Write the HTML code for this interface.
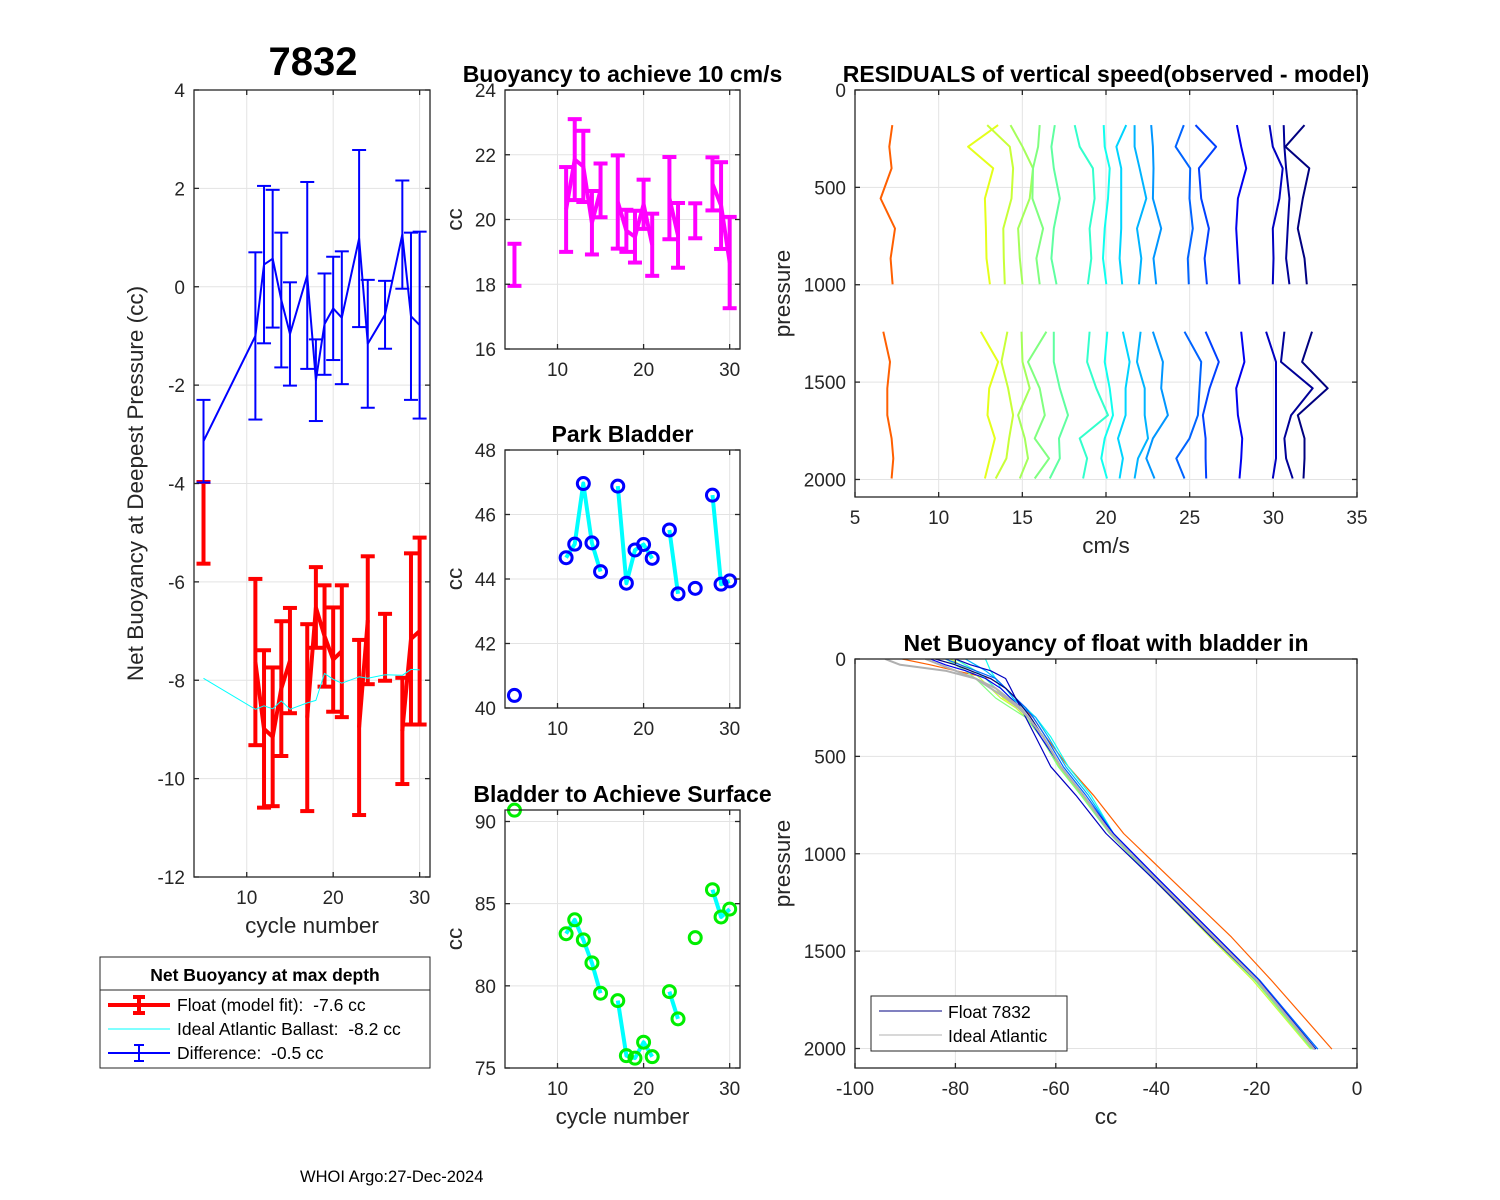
<!DOCTYPE html>
<html><head><meta charset="utf-8">
<style>
html,body{margin:0;padding:0;background:#fff;}
svg{display:block;font-family:"Liberation Sans",Arial,sans-serif;}
text{white-space:pre;}
</style></head>
<body>
<svg id="fig" width="1500" height="1200" viewBox="0 0 1500 1200" xmlns="http://www.w3.org/2000/svg" xml:space="preserve">
<rect x="0" y="0" width="1500" height="1200" fill="#fff"/>
<g id="root"></g>
</svg>
<script>
// ---------- data ----------
const cycles   = [5,11,12,13,14,15,17,18,19,20,21,23,24,26,28,29,30];
const floatFit = [-4.8,-7.63,-8.99,-9.15,-8.17,-7.6,-8.76,-6.52,-7.1,-7.58,-7.41,-8.96,-6.78,-7.33,-9.03,-7.16,-7.0];
const floatErr = [0.83,1.69,1.6,1.41,1.37,1.07,1.9,0.82,1.03,1.06,1.34,1.78,1.3,0.68,1.08,1.74,1.9];
const idealBal = [-7.96,-8.59,-8.52,-8.58,-8.42,-8.59,-8.46,-8.41,-7.86,-7.98,-8.06,-7.93,-7.96,-7.89,-7.9,-7.78,-7.79];
const diffVal  = [-3.14,-1.0,0.45,0.57,-0.27,-0.96,0.23,-1.9,-0.76,-0.44,-0.63,0.98,-1.16,-0.57,1.06,-0.6,-0.78];
const diffErr  = [0.84,1.7,1.6,1.4,1.37,1.05,1.9,0.83,1.03,1.05,1.35,1.8,1.3,0.69,1.1,1.7,1.9];
const buoy10   = [18.6,20.31,21.85,21.64,19.9,20.9,20.54,19.65,19.47,20.47,19.22,20.66,19.51,19.96,21.1,20.43,18.67];
const buoy10Err= [0.65,1.31,1.25,1.1,0.98,0.83,1.44,0.65,0.8,0.76,0.96,1.27,1.0,0.54,0.82,1.34,1.41];
const parkBl   = [40.39,44.66,45.08,46.96,45.12,44.23,46.88,43.87,44.9,45.07,44.64,45.52,43.54,43.71,46.6,43.84,43.94];
const surfBl   = [90.69,83.17,84.02,82.8,81.4,79.55,79.1,75.75,75.6,76.57,75.69,79.65,77.99,82.93,85.85,84.19,84.67];

// residual profiles
const resPtop = [180,291,402,557,711,865,998];
const resPbot = [1241,1396,1532,1670,1789,1892,1995];
const resTop = [
[7.23,7.05,7.19,6.53,7.39,7.13,7.25],
[13.55,11.76,13.26,12.76,12.82,12.86,13.06],
[12.9,14.25,14.45,14.35,13.86,13.89,13.95],
[14.29,15.01,15.64,15.44,14.75,14.85,15.01],
[16.04,15.94,15.64,15.6,16.24,15.84,16.04],
[16.94,16.74,16.88,17.24,16.88,16.74,17.04],
[18.13,18.43,19.22,19.32,19.02,19.12,18.92],
[19.86,19.92,20.22,20.12,19.92,19.82,20.02],
[21.21,20.62,20.91,20.91,20.91,20.81,20.97],
[21.71,21.71,22.01,22.41,21.85,22.11,21.97],
[22.7,22.8,22.84,22.8,23.3,22.84,23.0],
[24.65,24.16,25.03,24.99,25.19,24.89,24.95],
[25.35,26.58,25.55,25.69,26.15,25.89,26.03],
[27.82,28.08,28.38,27.88,27.78,27.88,27.98],
[29.77,29.97,30.56,30.36,29.97,30.01,29.97],
[30.62,30.66,30.76,30.96,30.86,30.76,30.96],
[31.86,30.72,32.15,31.76,31.46,31.86,32.0]];
const resBot = [
[6.69,7.09,6.93,6.93,7.19,7.29,7.19],
[12.52,13.55,13.02,12.92,13.36,13.06,12.76],
[14.11,13.75,14.15,14.45,14.21,14.05,13.41],
[14.95,15.01,15.44,14.75,15.15,15.34,14.85],
[16.44,15.34,16.04,16.34,15.74,16.6,15.74],
[16.88,16.88,17.24,17.73,17.19,17.24,16.64],
[19.02,18.87,19.42,20.12,18.43,18.87,18.63],
[20.08,19.92,20.22,20.42,19.92,19.72,20.06],
[21.01,21.41,21.17,21.17,20.72,21.01,20.81],
[22.07,21.85,22.31,22.31,22.51,21.91,21.71],
[22.8,23.4,23.3,23.7,22.8,22.41,22.9],
[24.69,25.69,25.59,25.49,24.99,24.2,24.69],
[25.95,26.74,26.19,25.79,25.95,25.95,25.99],
[28.08,28.27,27.78,27.88,28.14,28.08,27.98],
[29.57,30.16,30.16,30.16,30.16,30.16,29.97],
[30.66,30.46,32.35,31.06,30.66,30.76,31.16],
[32.31,31.72,33.25,31.46,31.86,31.86,31.8]];
const resColors = ['#ff5f00','#e5ff1a','#c8ff37','#a5ff5a','#80ff7f','#5fffa0','#33ffcc','#10ffef','#00d4ff','#00b4ff','#0096ff','#0064ff','#0040ff','#0000f0','#0000c0','#000098','#000080'];

// net buoyancy profiles
const nbP = [0,30,60,100,150,200,250,300,400,553,700,896,1119,1428,1651,2003];
const nbProfiles = [
[-90.6,-85,-80,-73,-70,-68,-66.5,-64.5,-62,-57.5,-52.5,-46.5,-37.5,-25,-17,-5],
[-80,-78,-76,-74,-72,-70.5,-67.5,-65.5,-62.5,-59,-54.5,-49,-40.8,-29,-20.3,-8.8],
[-81,-79,-77,-75,-73,-71,-68,-66,-63,-59.3,-54.8,-49.2,-41,-29.3,-20.7,-9.2],
[-82,-80,-78,-76,-74,-72,-69,-66,-63,-59.5,-55,-49.3,-41,-29,-20.3,-9],
[-80,-78,-76,-74,-72,-70,-67.5,-65.5,-62.5,-59,-54.5,-49,-40.8,-28.7,-20,-8.6],
[-74,-73.5,-73,-72,-71,-69,-66,-64,-61,-57.5,-53,-48.5,-40.5,-28.5,-19.7,-7.8],
[-78,-76,-74,-72,-70,-68.5,-66.5,-64,-61.5,-58,-53.5,-48.5,-40.5,-28.8,-20,-8.4],
[-82,-79,-76,-72,-70,-68,-66,-64.5,-62,-58.5,-54,-48.5,-40,-28,-19.3,-7.8],
[-85,-82,-78,-74,-71,-69,-67,-65.5,-63,-59,-54.5,-48.5,-40,-28,-19.5,-8.2],
[-80,-77,-73,-70,-69,-68,-67,-66,-64,-61,-56,-50,-41,-29,-20,-8.5],
[-84,-80,-77,-73,-70,-68,-66.5,-65,-62.5,-59,-54.5,-49,-40.5,-28.5,-19.8,-8.3]];
const nbColors = ['#ff5f00','#e5ff1a','#c8ff37','#80ff7f','#33ffcc','#10ffef','#00b4ff','#0064ff','#0000f0','#0000c0','#000080'];
const idealProfiles = [
[-94,-91,-82,-76,-72,-69.5,-67,-65.5,-62.5,-59,-54.5,-49,-40.5,-28.5,-19.8,-8.5],
[-86,-83,-80,-76,-73,-70,-67.5,-65.5,-62.5,-59,-54.5,-49,-40.5,-28.6,-19.9,-8.6]];

// ---------- helpers ----------
const NS='http://www.w3.org/2000/svg';
const root=document.getElementById('root');
function el(tag,attrs,parent){const e=document.createElementNS(NS,tag);for(const k in attrs)e.setAttribute(k,attrs[k]);(parent||root).appendChild(e);return e;}
function txt(s,x,y,attrs,parent){const t=el('text',Object.assign({x:x,y:y,fill:'#262626'},attrs||{}),parent);t.textContent=s;return t;}
function mkScale(d0,d1,p0,p1){return v=>p0+(v-d0)*(p1-p0)/(d1-d0);}

function axes(o){
  const g=el('g',{});
  
  
  const sx=mkScale(o.xl[0],o.xl[1],o.x0,o.x1);
  const sy=o.yrev?mkScale(o.yl[0],o.yl[1],o.y0,o.y1):mkScale(o.yl[0],o.yl[1],o.y1,o.y0);
  el('rect',{x:o.x0,y:o.y0,width:o.x1-o.x0,height:o.y1-o.y0,fill:'#fff'},g);
  const grid=el('g',{stroke:'#e3e3e3','stroke-width':1},g);
  
  
  o.xt.forEach(v=>{const x=sx(v);el('line',{x1:x,x2:x,y1:o.y0,y2:o.y1},grid);});
  o.yt.forEach(v=>{const y=sy(v);el('line',{x1:o.x0,x2:o.x1,y1:y,y2:y},grid);});
  const plot=el('g',{},g);
  const top=el('g',{},g);
  el('rect',{x:o.x0,y:o.y0,width:o.x1-o.x0,height:o.y1-o.y0,fill:'none',stroke:'#262626','stroke-width':1.3},top);
  const tl=o.tl||5;
  o.xt.forEach(v=>{const x=sx(v);
    el('line',{x1:x,x2:x,y1:o.y1,y2:o.y1-tl,stroke:'#262626','stroke-width':1.3},top);
    el('line',{x1:x,x2:x,y1:o.y0,y2:o.y0+tl,stroke:'#262626','stroke-width':1.3},top);
    const t=txt(String(v),x,o.y1+27,{'font-size':19,'text-anchor':'middle'},top);
    
    
  });
  o.yt.forEach(v=>{const y=sy(v);
    el('line',{x1:o.x0,x2:o.x0+tl,y1:y,y2:y,stroke:'#262626','stroke-width':1.3},top);
    el('line',{x1:o.x1,x2:o.x1-tl,y1:y,y2:y,stroke:'#262626','stroke-width':1.3},top);
    const t=txt(String(v),o.x0-9,y+7,{'font-size':19,'text-anchor':'end'},top);
    
    
  });
  if(o.title){const t=txt(o.title,(o.x0+o.x1)/2,o.y0-8,{'font-size':o.titleSize||23,'font-weight':'bold','text-anchor':'middle',fill:'#000'},top);
    
    }
  if(o.xlabel){const t=txt(o.xlabel,(o.x0+o.x1)/2,o.y1+56,{'font-size':22.5,'text-anchor':'middle'},top);
    
    }
  if(o.ylabel){const cx=o.ylx,cy=(o.y0+o.y1)/2;const t=txt(o.ylabel,cx,cy,{'font-size':22.5,'text-anchor':'middle',transform:'rotate(-90 '+cx+' '+cy+')'},top);
    
    }
  return {sx,sy,plot};
}
function polyline(pts,attrs,parent,name){const p=el('polyline',Object.assign({points:pts.map(q=>q[0].toFixed(1)+','+q[1].toFixed(1)).join(' '),fill:'none','stroke-linejoin':'round'},attrs),parent);
  
  
  return p;}
function consecutiveSegments(xs){const segs=[];let cur=[0];for(let i=1;i<xs.length;i++){if(xs[i]-xs[i-1]===1)cur.push(i);else{segs.push(cur);cur=[i];}}segs.push(cur);return segs;}
function errbar(ax,x,y,e,color,w,cap,parent,name){
  const g=el('g',{stroke:color,'stroke-width':w},parent);
  
  
  const px=ax.sx(x),y1=ax.sy(y-e),y2=ax.sy(y+e);
  el('line',{x1:px,x2:px,y1:y1,y2:y2},g);
  el('line',{x1:px-cap,x2:px+cap,y1:y1,y2:y1},g);
  el('line',{x1:px-cap,x2:px+cap,y1:y2,y2:y2},g);
}

// ---------- panel 1 ----------
const ax1=axes({name:'net-buoyancy-panel',x0:194,x1:430,y0:90,y1:877,xl:[3.9,31.2],yl:[-12,4],xt:[10,20,30],yt:[-12,-10,-8,-6,-4,-2,0,2,4],
  xlabel:'cycle number',ylabel:'Net Buoyancy at Deepest Pressure (cc)',ylx:143});
const t7832=txt('7832',313,75,{'font-size':40,'font-weight':'bold','text-anchor':'middle',fill:'#000'});


consecutiveSegments(cycles).forEach(s=>{ if(s.length>1) polyline(s.map(i=>[ax1.sx(cycles[i]),ax1.sy(floatFit[i])]),{stroke:'#ff0000','stroke-width':4},ax1.plot,'float-fit-line');});
cycles.forEach((c,i)=>errbar(ax1,c,floatFit[i],floatErr[i],'#ff0000',4,7,ax1.plot,'float-fit-errorbar'));
polyline(cycles.map((c,i)=>[ax1.sx(c),ax1.sy(idealBal[i])]),{stroke:'#00ffff','stroke-width':1},ax1.plot,'ideal-ballast-line');
polyline(cycles.map((c,i)=>[ax1.sx(c),ax1.sy(diffVal[i])]),{stroke:'#0000ff','stroke-width':2},ax1.plot,'difference-line');
cycles.forEach((c,i)=>errbar(ax1,c,diffVal[i],diffErr[i],'#0000ff',2,7,ax1.plot,'difference-errorbar'));

// ---------- panel 2 ----------
const ax2=axes({name:'buoyancy-10cms-panel',x0:505,x1:740,y0:90,y1:349,xl:[3.9,31.2],yl:[16,24],xt:[10,20,30],yt:[16,18,20,22,24],
  title:'Buoyancy to achieve 10 cm/s',ylabel:'cc',ylx:462});
consecutiveSegments(cycles).forEach(s=>{ if(s.length>1) polyline(s.map(i=>[ax2.sx(cycles[i]),ax2.sy(buoy10[i])]),{stroke:'#ff00ff','stroke-width':4},ax2.plot,'buoyancy-10-line');});
cycles.forEach((c,i)=>errbar(ax2,c,buoy10[i],buoy10Err[i],'#ff00ff',4,7,ax2.plot,'buoyancy-10-errorbar'));

// ---------- panel 3 ----------
const ax3=axes({name:'park-bladder-panel',x0:505,x1:740,y0:450,y1:708,xl:[3.9,31.2],yl:[40,48],xt:[10,20,30],yt:[40,42,44,46,48],
  title:'Park Bladder',ylabel:'cc',ylx:462});
consecutiveSegments(cycles).forEach(s=>{ if(s.length>1) polyline(s.map(i=>[ax3.sx(cycles[i]),ax3.sy(parkBl[i])]),{stroke:'#00ffff','stroke-width':4},ax3.plot,'park-bladder-line');});
cycles.forEach((c,i)=>{const m=el('circle',{cx:ax3.sx(c),cy:ax3.sy(parkBl[i]),r:6,fill:'none',stroke:'#0000ff','stroke-width':3},ax3.plot);
  
  });

// ---------- panel 4 ----------
const ax4=axes({name:'bladder-surface-panel',x0:505,x1:740,y0:810,y1:1068,xl:[3.9,31.2],yl:[75,90.7],xt:[10,20,30],yt:[75,80,85,90],
  title:'Bladder to Achieve Surface',xlabel:'cycle number',ylabel:'cc',ylx:462});
consecutiveSegments(cycles).forEach(s=>{ if(s.length>1) polyline(s.map(i=>[ax4.sx(cycles[i]),ax4.sy(surfBl[i])]),{stroke:'#00ffff','stroke-width':4},ax4.plot,'surface-bladder-line');});
cycles.forEach((c,i)=>{const m=el('circle',{cx:ax4.sx(c),cy:ax4.sy(surfBl[i]),r:6,fill:'none',stroke:'#00ee00','stroke-width':3},ax4.plot);
  
  });

// ---------- panel 5 ----------
const ax5=axes({name:'residuals-panel',x0:855,x1:1357,y0:90,y1:497,xl:[5,35],yl:[0,2090],yrev:true,xt:[5,10,15,20,25,30,35],yt:[0,500,1000,1500,2000],
  title:'RESIDUALS of vertical speed(observed - model)',xlabel:'cm/s',ylabel:'pressure',ylx:790});
resTop.forEach((row,k)=>{
  polyline(row.map((v,j)=>[ax5.sx(v),ax5.sy(resPtop[j])]),{stroke:resColors[k],'stroke-width':2},ax5.plot,'residual-profile-upper');
  polyline(resBot[k].map((v,j)=>[ax5.sx(v),ax5.sy(resPbot[j])]),{stroke:resColors[k],'stroke-width':2},ax5.plot,'residual-profile-lower');
});

// ---------- panel 6 ----------
const ax6=axes({name:'net-buoyancy-profile-panel',x0:855,x1:1357,y0:659,y1:1068,xl:[-100,0],yl:[0,2100],yrev:true,xt:[-100,-80,-60,-40,-20,0],yt:[0,500,1000,1500,2000],
  title:'Net Buoyancy of float with bladder in',xlabel:'cc',ylabel:'pressure',ylx:790});
const clip=el('clipPath',{id:'c6'});el('rect',{x:855,y:659,width:502,height:409},clip);
ax6.plot.setAttribute('clip-path','url(#c6)');
nbProfiles.forEach((row,k)=>polyline(row.map((v,j)=>[ax6.sx(v),ax6.sy(nbP[j])]),{stroke:nbColors[k],'stroke-width':1.2},ax6.plot,'float-profile'));
idealProfiles.forEach(row=>polyline(row.map((v,j)=>[ax6.sx(v),ax6.sy(nbP[j])]),{stroke:'#b0b0b0','stroke-width':2},ax6.plot,'ideal-profile'));
// legend panel 6
const lg6=el('g',{});


el('rect',{x:871,y:996,width:196,height:55,fill:'#fff',stroke:'#262626','stroke-width':1},lg6);
el('line',{x1:879,x2:942,y1:1011,y2:1011,stroke:'#000080','stroke-width':1},lg6);
txt('Float 7832',948,1018,{'font-size':17.5,fill:'#000'},lg6);
el('line',{x1:879,x2:942,y1:1035,y2:1035,stroke:'#b0b0b0','stroke-width':1},lg6);
txt('Ideal Atlantic',948,1042,{'font-size':17.5,fill:'#000'},lg6);

// ---------- left legend ----------
const lg1=el('g',{});


el('rect',{x:100,y:957,width:330,height:111,fill:'#fff',stroke:'#262626','stroke-width':1},lg1);
el('line',{x1:100,x2:430,y1:990,y2:990,stroke:'#262626','stroke-width':1},lg1);
txt('Net Buoyancy at max depth',265,981,{'font-size':17.5,'font-weight':'bold','text-anchor':'middle',fill:'#000'},lg1);
el('line',{x1:108,x2:170,y1:1005,y2:1005,stroke:'#ff0000','stroke-width':4},lg1);
el('line',{x1:139,x2:139,y1:997,y2:1013,stroke:'#ff0000','stroke-width':4},lg1);
el('line',{x1:133,x2:145,y1:997,y2:997,stroke:'#ff0000','stroke-width':4},lg1);
el('line',{x1:133,x2:145,y1:1013,y2:1013,stroke:'#ff0000','stroke-width':4},lg1);
txt('Float (model fit):  -7.6 cc',177,1011,{'font-size':17.5,fill:'#000'},lg1);
el('line',{x1:108,x2:170,y1:1029,y2:1029,stroke:'#00ffff','stroke-width':1},lg1);
txt('Ideal Atlantic Ballast:  -8.2 cc',177,1035,{'font-size':17.5,fill:'#000'},lg1);
el('line',{x1:108,x2:170,y1:1053,y2:1053,stroke:'#0000ff','stroke-width':2},lg1);
el('line',{x1:139,x2:139,y1:1045,y2:1061,stroke:'#0000ff','stroke-width':2},lg1);
el('line',{x1:134,x2:144,y1:1045,y2:1045,stroke:'#0000ff','stroke-width':2},lg1);
el('line',{x1:134,x2:144,y1:1061,y2:1061,stroke:'#0000ff','stroke-width':2},lg1);
txt('Difference:  -0.5 cc',177,1059,{'font-size':17.5,fill:'#000'},lg1);

const foot=txt('WHOI Argo:27-Dec-2024',300,1182,{'font-size':16.5,fill:'#000'});


</script>
</body></html>
